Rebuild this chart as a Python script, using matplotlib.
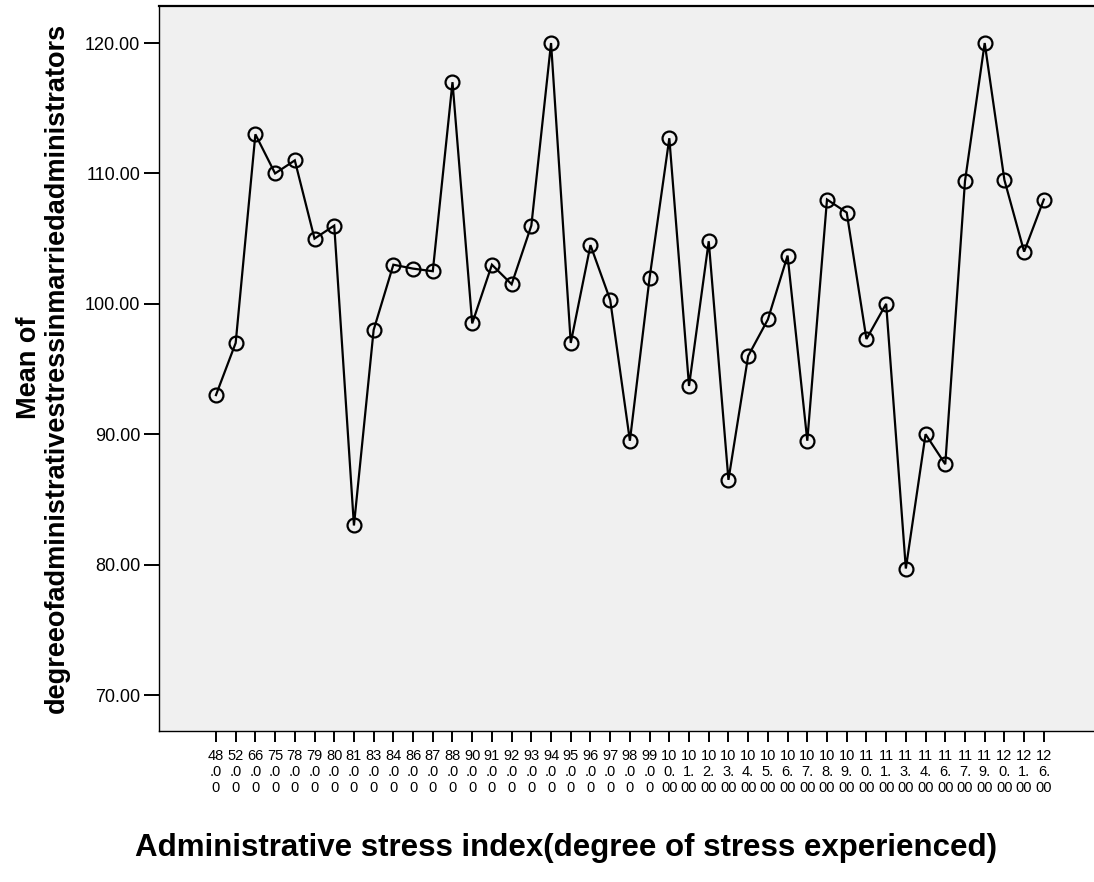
import numpy as np
import matplotlib as mpl
mpl.use("Agg")
import matplotlib.pyplot as plt

# stress index categories and the mean score in each
stress_index = [48, 52, 66, 75, 78, 79, 80, 81, 83, 84, 86, 87, 88, 90, 91, 92, 93, 94,
                95, 96, 97, 98, 99, 100, 101, 102, 103, 104, 105, 106, 107, 108, 109,
                110, 111, 113, 114, 116, 117, 119, 120, 121, 126]
mean_stress = [93.0, 97.0, 113.0, 110.0, 111.0, 105.0, 106.0, 83.0, 98.0, 103.0, 102.7,
               102.5, 117.0, 98.5, 103.0, 101.5, 106.0, 120.0, 97.0, 104.5, 100.3, 89.5,
               102.0, 112.7, 93.7, 104.8, 86.5, 96.0, 98.8, 103.7, 89.5, 108.0, 107.0,
               97.3, 100.0, 79.7, 90.0, 87.7, 109.4, 120.0, 109.5, 104.0, 108.0]
y_ticks = [70, 80, 90, 100, 110, 120]


def wrap_label(v):
    # narrow category columns: break "48.00" into two-character rows
    s = "%.2f" % v
    return "\n".join(s[i:i + 2] for i in range(0, len(s), 2))


plt.rcParams['font.family'] = ['Liberation Sans', 'DejaVu Sans']

fig = plt.figure(figsize=(10.94, 8.82), dpi=100)
W, H = 1094.0, 882.0
ax = fig.add_axes([159 / W, 1 - 731 / H, (1100 - 159) / W, (731 - 6) / H])
ax.set_facecolor('#f0f0f0')

xs = np.arange(len(stress_index))
ax.plot(xs, mean_stress, color='black', linewidth=1.6, solid_joinstyle='miter',
        marker='o', markersize=10, markerfacecolor='none', markeredgecolor='black',
        markeredgewidth=1.6, zorder=3)

n = len(xs)
ax.set_xlim(-2.89, (n - 1) + 2.85)
ax.set_ylim(67.24, 122.84)

ax.set_xticks(xs)
ax.set_xticklabels([wrap_label(v) for v in stress_index], fontsize=10.5, linespacing=1.2)
ax.set_yticks(y_ticks)
ax.set_yticklabels(["%.2f" % v for v in y_ticks], fontsize=13)

ax.tick_params(axis='x', direction='out', length=8, width=1.4, pad=5, color='black')
ax.tick_params(axis='y', direction='out', length=10.5, width=1.4, pad=3, color='black')

for side in ['left', 'bottom']:
    ax.spines[side].set_linewidth(1.0)
ax.spines['top'].set_linewidth(1.6)
ax.spines['right'].set_visible(False)

fig.text(566 / W, 1 - 848 / H, 'Administrative stress index(degree of stress experienced)',
         ha='center', va='center', fontsize=22.5, fontweight='bold')
fig.text(43 / W, 1 - 368 / H,
         'Mean of\ndegreeofadministrativestressinmarriedadministrators',
         ha='center', va='center', rotation=90, fontsize=19.5, fontweight='bold',
         linespacing=1.05, multialignment='center')

fig.savefig('out.png', dpi=100)
